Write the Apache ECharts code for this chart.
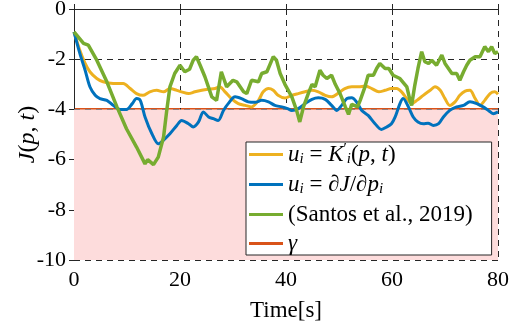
<!DOCTYPE html>
<html><head><meta charset="utf-8">
<script src="https://cdn.jsdelivr.net/npm/echarts@6/dist/echarts.min.js"></script>
<style>html,body{margin:0;padding:0;background:#fff}#c{width:512px;height:330px}</style>
</head><body><div id="c"></div>
<script>
// ---- data ----
const xTicks = [0, 20, 40, 60, 80];
const yTicks = [-10, -8, -6, -4, -2, 0];
const gammaValue = -4;

const yellowT = [0,1.1,2.1,3.0,4.3,5.5,7.4,9.3,10.6,11.8,13.0,14.3,15.6,16.9,18.1,19.4,20.3,21.6,22.8,24.1,25.3,26.6,27.5,28.5,29.7,31.0,32.3,33.5,34.8,35.7,36.7,37.6,38.5,39.8,41.1,42.3,43.6,44.9,46.1,47.4,48.6,49.9,51.1,52.4,53.7,55.0,56.2,57.5,58.7,59.9,60.9,61.8,62.8,63.7,64.7,65.9,67.2,68.1,69.1,70.0,70.9,71.9,72.8,73.8,74.7,75.7,76.6,77.5,78.5,79.4,80];
const yellowV = [-0.91,-1.64,-2.17,-2.5,-2.77,-2.9,-2.97,-2.97,-3.17,-3.37,-3.44,-3.3,-3.24,-3.3,-3.17,-3.24,-3.3,-3.37,-3.3,-3.24,-3.2,-3.17,-3.1,-3.3,-3.57,-3.77,-3.84,-3.9,-3.64,-3.3,-3.17,-3.24,-3.44,-3.55,-3.44,-3.37,-3.3,-3.24,-3.3,-3.44,-3.5,-3.35,-3.17,-3.1,-3.1,-3.07,-3.17,-3.3,-3.24,-3.17,-3.17,-3.3,-3.57,-3.77,-3.64,-3.44,-3.24,-3.1,-3.24,-3.57,-3.84,-3.7,-3.44,-3.27,-3.24,-3.57,-3.84,-3.64,-3.37,-3.3,-3.4];

const blueT = [0,1.1,2.1,3.0,4.0,4.9,6.2,7.4,8.7,9.9,11.0,11.8,12.5,13.4,14.7,15.9,16.8,18.1,19.4,20.3,21.6,22.5,23.5,24.4,25.4,26.3,27.2,28.2,29.1,30.4,31.6,32.9,34.2,35.4,36.7,37.9,39.2,40.3,41.1,42.3,43.6,44.9,46.1,47.4,48.6,49.6,50.5,51.5,52.4,53.3,54.3,55.5,56.8,58.0,59.0,59.9,60.6,61.5,62.1,63.1,64.0,64.9,65.9,66.8,67.8,68.8,69.7,70.9,72.2,73.5,74.7,76.0,77.2,78.2,79.1,80];
const blueV = [-0.91,-1.77,-2.44,-3.1,-3.44,-3.57,-3.64,-3.84,-4.0,-4.0,-3.77,-3.57,-3.64,-4.3,-4.97,-5.37,-5.24,-4.97,-4.64,-4.44,-4.57,-4.7,-4.5,-4.1,-4.3,-4.37,-4.44,-4.04,-3.77,-3.5,-3.57,-3.7,-3.72,-3.64,-3.7,-3.84,-3.9,-3.97,-4.04,-3.97,-3.77,-3.6,-3.54,-3.6,-3.84,-4.04,-3.84,-3.57,-3.54,-3.7,-4.04,-4.24,-4.57,-4.8,-4.7,-4.57,-4.3,-3.77,-3.57,-3.9,-4.3,-4.5,-4.57,-4.55,-4.64,-4.57,-4.3,-4.04,-3.9,-3.84,-3.7,-3.77,-3.9,-4.04,-4.17,-4.1];

const greenT = [0,1.8,2.7,4.3,6.2,8.1,9.9,11.8,13.4,13.9,15.0,15.9,16.9,17.5,18.1,19.0,20.0,20.9,21.8,22.5,23.1,23.8,24.7,26.0,26.9,27.8,28.8,30.0,30.7,32.0,32.6,33.5,34.8,35.4,36.4,37.6,38.2,38.9,39.8,41.1,42.0,42.6,43.3,44.2,44.9,45.5,46.4,47.0,47.7,48.6,49.3,50.2,51.2,51.8,52.4,52.9,53.5,54.0,54.9,55.5,56.5,57.1,57.7,58.7,59.4,60.2,61.5,62.8,63.4,63.7,64.3,64.9,65.6,66.2,66.9,67.5,68.4,69.4,70.0,71.3,72.2,72.8,73.5,74.1,74.7,75.7,76.6,77.5,78.2,78.8,79.4,80];
const greenV = [-0.91,-1.37,-1.44,-2.04,-2.9,-3.9,-4.77,-5.5,-6.17,-6.0,-6.2,-5.9,-5.1,-4.04,-3.1,-2.57,-2.24,-2.5,-2.4,-2.04,-1.9,-2.24,-2.7,-3.5,-3.64,-2.5,-3.1,-2.84,-2.9,-3.3,-3.37,-2.84,-2.9,-2.57,-2.5,-1.9,-2.04,-2.57,-3.0,-3.5,-4.04,-4.5,-3.9,-3.37,-3.0,-3.1,-2.44,-2.64,-2.77,-2.64,-3.0,-3.37,-3.9,-4.2,-3.8,-3.84,-3.9,-3.64,-3.1,-2.64,-2.64,-2.37,-2.17,-2.37,-2.37,-2.64,-2.77,-3.1,-3.64,-3.84,-3.04,-2.37,-1.7,-2.1,-2.17,-2.04,-2.24,-1.84,-2.17,-2.57,-2.57,-2.84,-2.5,-2.24,-2.04,-1.9,-1.9,-1.5,-1.7,-1.5,-1.77,-1.7];

const gammaT = [0, 80];

function pairs(t, v) { return t.map((x, i) => [x, v[i]]); }

const SERIF = 'Liberation Serif';
const INK = '#262626';

const legendText = {
  yellow: '{it|u}{sub|i}{rm| = }{it|K}{sup|′}{sub|i}{rm|(}{it|p}{rm|, }{it|t}{rm|)}',
  blue: '{it|u}{sub|i}{rm| = ∂}{it|J}{rm|/∂}{it|p}{sub|i}',
  green: '{rm|(Santos et al., 2019)}',
  gamma: '{it|γ}'
};

const chart = echarts.init(document.getElementById('c'), null, {renderer: 'canvas'});
const axisCommon = {
  axisLine: {show: true, lineStyle: {color: INK, width: 1}},
  axisTick: {show: true, inside: true, length: 5, lineStyle: {color: INK}},
};
chart.setOption({
  animation: false,
  backgroundColor: '#fff',
  textStyle: {fontFamily: SERIF},
  grid: {left: 74, right: 14, top: 9, bottom: 70, containLabel: false, outerBoundsMode: 'none'},
  xAxis: [{
    type: 'value', min: xTicks[0], max: xTicks[xTicks.length - 1], interval: 20,
    ...axisCommon,
    axisLabel: {color: '#000', fontFamily: SERIF, fontSize: 22, margin: 9},
    splitLine: {show: true, lineStyle: {color: INK, type: [6, 5], width: 1}},
    name: 'Time[s]', nameLocation: 'middle', nameGap: 39, nameMoveOverlap: false,
    nameTextStyle: {color: '#000', fontFamily: SERIF, fontSize: 23}
  }, {
    type: 'value', position: 'top', min: 0, max: 80, interval: 20,
    ...axisCommon, axisLabel: {show: false}, splitLine: {show: false}
  }],
  yAxis: [{
    type: 'value', min: yTicks[0], max: yTicks[yTicks.length - 1], interval: 2,
    ...axisCommon,
    axisLabel: {color: '#000', fontFamily: SERIF, fontSize: 22, margin: 8},
    splitLine: {show: true, lineStyle: {color: INK, type: [6, 5], width: 1}},
    name: '{it|J}{rm|(}{it|p}{rm|, }{it|t}{rm|)}', nameLocation: 'middle', nameGap: 34,
    nameMoveOverlap: false,
    nameTextStyle: {
      rich: {
        it: {fontFamily: SERIF, fontStyle: 'italic', fontSize: 24, color: '#000'},
        rm: {fontFamily: SERIF, fontSize: 24, color: '#000'}
      }
    }
  }, {
    type: 'value', position: 'right', min: -10, max: 0, interval: 2,
    ...axisCommon, axisLabel: {show: false}, splitLine: {show: false}
  }],
  legend: {
    orient: 'vertical', left: 246, top: 142,
    padding: [0, 19, 0, 3], itemGap: 6, itemWidth: 34, itemHeight: 3,
    icon: 'rect',
    backgroundColor: '#fff', borderColor: INK, borderWidth: 1,
    data: ['yellow', 'blue', 'green', 'gamma'],
    formatter: n => legendText[n],
    textStyle: {
      padding: [0, 0, 0, 0],
      rich: {
        it: {fontFamily: SERIF, fontStyle: 'italic', fontSize: 23, color: '#000'},
        rm: {fontFamily: SERIF, fontSize: 23, color: '#000'},
        sub: {fontFamily: SERIF, fontStyle: 'italic', fontSize: 15, color: '#000', padding: [10, 0, 0, 0]},
        sup: {fontFamily: SERIF, fontSize: 15, color: '#000', padding: [0, 0, 10, 0]}
      }
    }
  },
  series: [
    {
      name: 'gamma', type: 'line', z: -1, data: pairs(gammaT, [gammaValue, gammaValue]),
      showSymbol: false, lineStyle: {color: '#D95319', width: 3}, itemStyle: {color: '#D95319'},
      markArea: {silent: true, itemStyle: {color: '#fddcdc'}, data: [[{yAxis: yTicks[0]}, {yAxis: gammaValue}]]}
    },
    {
      name: 'yellow', type: 'line', data: pairs(yellowT, yellowV), smooth: 0.3,
      showSymbol: false, lineStyle: {color: '#EDB120', width: 3}, itemStyle: {color: '#EDB120'}
    },
    {
      name: 'blue', type: 'line', data: pairs(blueT, blueV), smooth: 0.3,
      showSymbol: false, lineStyle: {color: '#0072BD', width: 3}, itemStyle: {color: '#0072BD'}
    },
    {
      name: 'green', type: 'line', data: pairs(greenT, greenV),
      showSymbol: false, lineStyle: {color: '#77AC30', width: 3.5}, itemStyle: {color: '#77AC30'}
    }
  ]
});
</script></body></html>
